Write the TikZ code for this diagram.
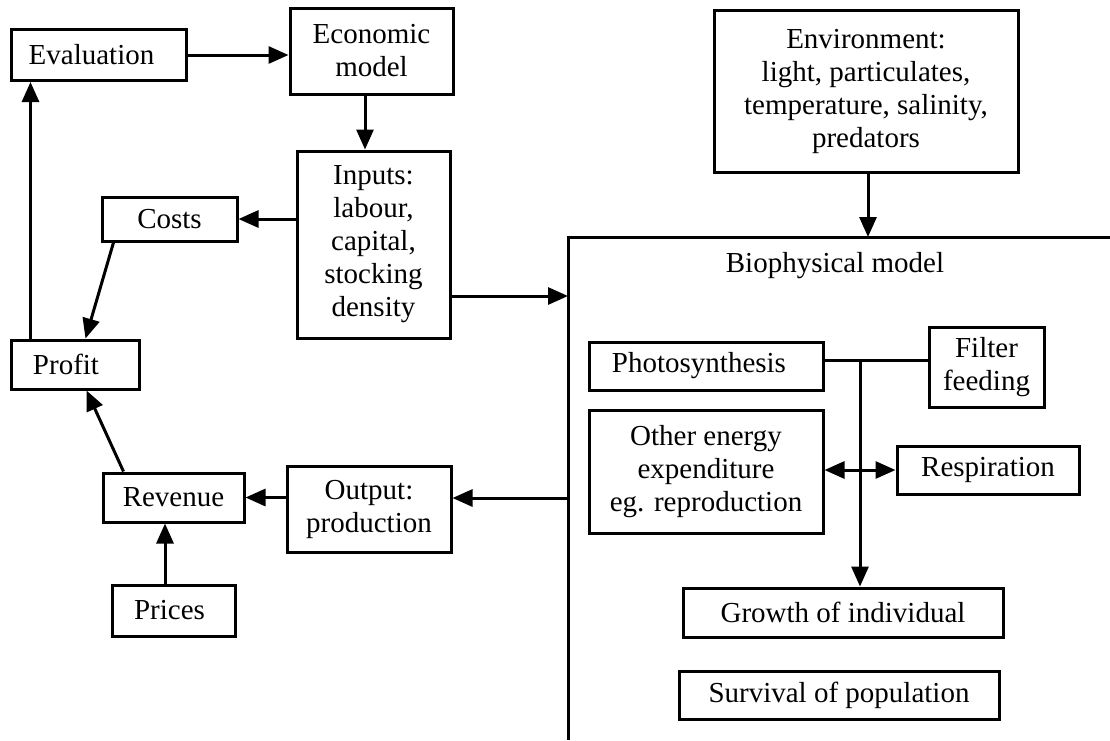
\documentclass[tikz,border=0pt]{standalone}
\usepackage{fontspec}
\setmainfont{Liberation Serif}
\usetikzlibrary{arrows.meta}
\begin{document}
\begin{tikzpicture}[x=1pt,y=-1pt,
  box/.style={draw, line width=3pt, inner sep=0pt, align=center, font=\fontsize{29}{33}\selectfont},
  lbl/.style={inner sep=0pt, align=center, font=\fontsize{29}{33}\selectfont},
  arr/.style={line width=3pt, -{Triangle[length=20pt,width=17pt]}},
  ln/.style={line width=3pt}]
\useasboundingbox (0,0) rectangle (1110,740);
% economic side
\node[box, minimum width=175pt, minimum height=51pt] (eval) at (98.5,55) {Evaluation\hspace*{14pt}};
\node[box, minimum width=163pt, minimum height=86pt] (econ) at (371.5,51) {Economic\\model};
\node[box, minimum width=153pt, minimum height=187pt] (inputs) at (373.5,244.5) {Inputs:\\labour,\\capital,\\stocking\\density};
\node[box, minimum width=135pt, minimum height=44pt] (costs) at (169.5,219) {Costs};
\node[box, minimum width=128pt, minimum height=49pt] (profit) at (75,364.5) {Profit\hspace*{18pt}};
\node[box, minimum width=141pt, minimum height=49pt] (revenue) at (173.5,497.5) {Revenue};
\node[box, minimum width=164pt, minimum height=86pt] (output) at (369,509) {Output:\\production};
\node[box, minimum width=123pt, minimum height=51pt] (prices) at (173.5,610.5) {Prices\hspace*{8pt}};
% environment
\node[box, minimum width=304pt, minimum height=162pt] (env) at (866,91) {Environment:\\light, particulates,\\temperature, salinity,\\predators};
% biophysical frame
\coordinate (bTR) at (1110,237);
\coordinate (bTL) at (568,237);
\coordinate (bBL) at (568,740);
\coordinate (bIn) at (568,296);
\coordinate (bOut) at (568,498);
\coordinate (envIn) at (868,237);
\draw[ln] (bTR) -- (bTL) -- (bBL);
\node[lbl] (bioLabel) at (835,266) {Biophysical model};
\node[box, minimum width=234pt, minimum height=48pt] (photo) at (706,366) {Photosynthesis\hspace*{14pt}};
\node[box, minimum width=115pt, minimum height=80pt] (filter) at (986.5,367) {Filter\\feeding};
\node[box, minimum width=234pt, minimum height=123pt] (other) at (706,471.5) {Other energy\\expenditure\\eg. reproduction};
\node[box, minimum width=182pt, minimum height=48pt] (resp) at (988,470) {Respiration};
\node[box, minimum width=320pt, minimum height=49pt] (growth) at (843,612.5) {Growth of individual};
\node[box, minimum width=320pt, minimum height=48pt] (surv) at (839,695) {Survival of population};
\coordinate (j) at (860,360);
% connectors
\draw[arr] (eval) -- (eval -| econ.west);
\draw[arr] (econ.south -| 365,0) -- (inputs.north -| 365,0);
\draw[arr] (inputs.west |- costs) -- (costs);
\draw[arr] (inputs.east |- bIn) -- (bIn);
\draw[arr] ([xshift=13pt]costs.south west) -- ([xshift=76pt]profit.north west);
\draw[arr] ([xshift=21pt]profit.north west) -- ([xshift=21pt]eval.south west);
\draw[arr] ([xshift=22pt]revenue.north west) -- ([xshift=77pt]profit.south west);
\draw[arr] (output.west |- revenue) -- (revenue);
\draw[arr] (bOut) -- (output.east |- bOut);
\draw[arr] (prices.north -| 165,0) -- (revenue.south -| 165,0);
\draw[arr] (env.south -| envIn) -- (envIn);
\draw[ln] (photo.east |- j) -- (filter.west |- j);
\draw[arr] (j) -- (growth.north -| j);
\draw[line width=3pt, {Triangle[length=20pt,width=17pt]}-{Triangle[length=20pt,width=17pt]}] (other.east |- resp) -- (resp.west);
\end{tikzpicture}
\end{document}
